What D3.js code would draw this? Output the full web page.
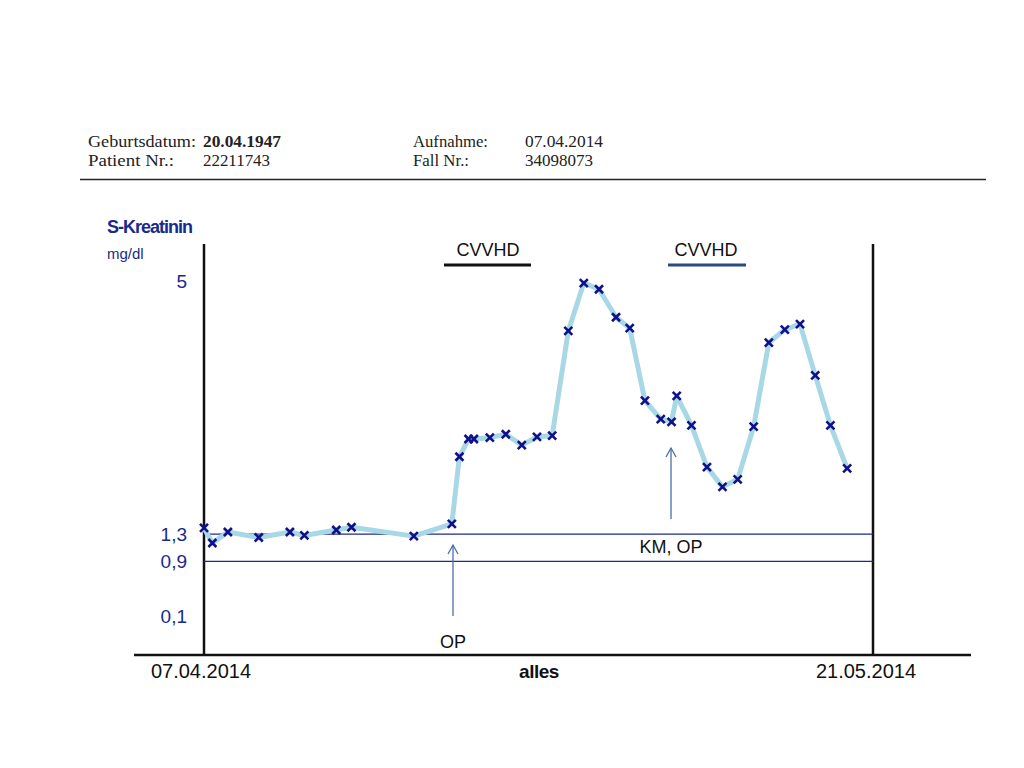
<!DOCTYPE html><html><head><meta charset="utf-8"><script src="https://cdn.jsdelivr.net/npm/d3@7"></script>
<style>body{margin:0;background:#fff}</style></head><body><svg id="c" width="1024" height="768"></svg>
<script>
const days=[0,0.55,1.57,3.6,5.65,6.6,8.7,9.7,13.8,16.3,16.8,17.4,17.75,18.8,19.85,20.9,21.9,22.9,23.96,24.98,25.98,27.1,28.0,29.0,30.04,30.75,31.09,32.06,33.08,34.1,35.1,36.15,37.15,38.2,39.2,40.2,41.2,42.3];
const values=[1.39,1.17,1.33,1.25,1.33,1.28,1.36,1.40,1.27,1.45,2.43,2.69,2.69,2.71,2.76,2.60,2.72,2.74,4.27,4.97,4.88,4.47,4.31,3.25,2.98,2.94,3.32,2.89,2.28,1.99,2.10,2.87,4.10,4.29,4.37,3.62,2.89,2.26];
const yTicks=[5,1.3,0.9,0.1];
const yTickLabels=["5","1,3","0,9","0,1"];
const refLines=[1.3,0.9];
const xLabels=["07.04.2014","alles","21.05.2014"];
const svg=d3.select("#c");
const x=d3.scaleLinear().domain([0,44]).range([204,873]);
const y=d3.scaleLinear().domain([0,5]).range([623,281]);
const blue="#1a2a8c";
const hs=svg.append("g").attr("font-family","Liberation Serif").attr("font-size",16).attr("fill","#222");
function ht(xx,yy,t,w,bold){const e=hs.append("text").attr("x",xx).attr("y",yy).attr("textLength",w).attr("lengthAdjust","spacingAndGlyphs").text(t);if(bold)e.attr("font-weight","bold");}
ht(88,147,"Geburtsdatum:",108);ht(203,147,"20.04.1947",78,true);
ht(88,166,"Patient Nr.:",86);ht(203,166,"22211743",67);
ht(413,147,"Aufnahme:",75);ht(525,147,"07.04.2014",78);
ht(413,166,"Fall Nr.:",56);ht(525,166,"34098073",68);
svg.append("line").attr("x1",80).attr("x2",986).attr("y1",179.5).attr("y2",179.5).attr("stroke","#222").attr("stroke-width",1.5);
const F="Liberation Sans";
svg.append("text").attr("x",107).attr("y",233).attr("font-family",F).attr("font-size",18).attr("font-weight","bold").attr("fill",blue).attr("letter-spacing",-1).text("S-Kreatinin");
svg.append("text").attr("x",107).attr("y",259).attr("font-family",F).attr("font-size",15).attr("fill",blue).text("mg/dl");
svg.append("line").attr("x1",204).attr("x2",204).attr("y1",244).attr("y2",655).attr("stroke","#111").attr("stroke-width",2.5);
svg.append("line").attr("x1",873).attr("x2",873).attr("y1",244).attr("y2",655).attr("stroke","#111").attr("stroke-width",2.5);
svg.append("line").attr("x1",134).attr("x2",971).attr("y1",655).attr("y2",655).attr("stroke","#111").attr("stroke-width",2.5);
yTicks.forEach((t,i)=>svg.append("text").attr("x",187).attr("y",y(t)+7).attr("text-anchor","end").attr("font-family",F).attr("font-size",19).attr("fill",blue).text(yTickLabels[i]));
refLines.forEach(r=>svg.append("line").attr("x1",204).attr("x2",873).attr("y1",y(r)).attr("y2",y(r)).attr("stroke",blue).attr("stroke-width",1.3));
svg.append("text").attr("x",201).attr("y",678).attr("text-anchor","middle").attr("font-family",F).attr("font-size",20).attr("fill","#111").text(xLabels[0]);
svg.append("text").attr("x",539).attr("y",678).attr("text-anchor","middle").attr("font-family",F).attr("font-size",19).attr("font-weight","bold").attr("fill","#111").attr("letter-spacing",-0.5).text(xLabels[1]);
svg.append("text").attr("x",866).attr("y",678).attr("text-anchor","middle").attr("font-family",F).attr("font-size",20).attr("fill","#111").text(xLabels[2]);
svg.append("text").attr("x",488).attr("y",256).attr("text-anchor","middle").attr("font-family",F).attr("font-size",18).attr("fill","#111").text("CVVHD");
svg.append("line").attr("x1",444).attr("x2",531).attr("y1",265).attr("y2",265).attr("stroke","#111").attr("stroke-width",3);
svg.append("text").attr("x",706).attr("y",256).attr("text-anchor","middle").attr("font-family",F).attr("font-size",18).attr("fill","#111").text("CVVHD");
svg.append("line").attr("x1",668).attr("x2",746).attr("y1",265).attr("y2",265).attr("stroke","#2a4a80").attr("stroke-width",3);
function arrow(ax,y1,y2){svg.append("line").attr("x1",ax).attr("x2",ax).attr("y1",y1).attr("y2",y2).attr("stroke","#4a6fa5").attr("stroke-width",1.3);
 svg.append("path").attr("d",`M${ax-5},${y2+9}L${ax},${y2}L${ax+5},${y2+9}`).attr("fill","none").attr("stroke","#4a6fa5").attr("stroke-width",1.3);}
arrow(453,616,545);arrow(671,519,448);
svg.append("text").attr("x",453).attr("y",648).attr("text-anchor","middle").attr("font-family",F).attr("font-size",18).attr("fill","#111").text("OP");
svg.append("text").attr("x",671).attr("y",553).attr("text-anchor","middle").attr("font-family",F).attr("font-size",18).attr("fill","#111").text("KM, OP");
const pts=days.map((d,i)=>[x(d),y(values[i])]);
svg.append("path").attr("d",d3.line()(pts)).attr("fill","none").attr("stroke","#a8d8e6").attr("stroke-width",5).attr("stroke-linejoin","round");
svg.selectAll(".m").data(pts).enter().append("path").attr("d",p=>`M${p[0]-4},${p[1]-4}L${p[0]+4},${p[1]+4}M${p[0]-4},${p[1]+4}L${p[0]+4},${p[1]-4}`).attr("stroke","#10108a").attr("stroke-width",2.6);
</script></body></html>
